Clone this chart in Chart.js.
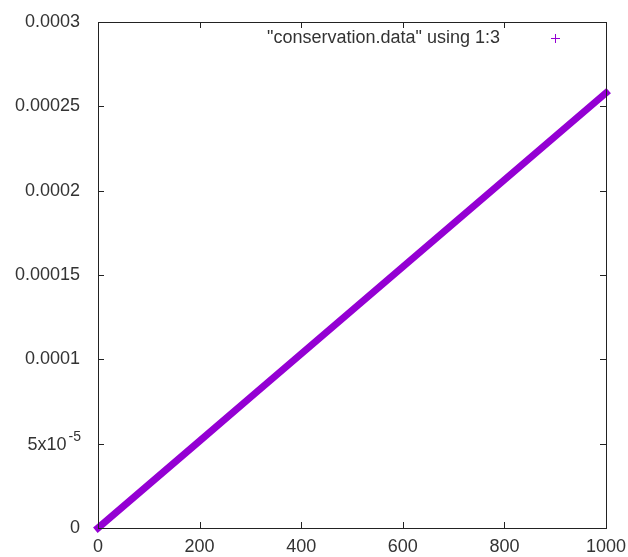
<!DOCTYPE html>
<html>
<head>
<meta charset="utf-8">
<script src="https://cdn.jsdelivr.net/npm/chart.js@4/dist/chart.umd.min.js"></script>
<style>
  html, body { margin: 0; padding: 0; background: #fff; }
  #wrap { width: 628px; height: 557px; }
</style>
</head>
<body>
<div id="wrap"><canvas id="myChart" width="628" height="557"></canvas></div>
<script>
// data read from conservation.data, column 1 vs column 3
const xValues = [0, 100, 200, 300, 400, 500, 600, 700, 800, 900, 1000];
const yValues = [0, 2.58e-5, 5.16e-5, 7.74e-5, 1.032e-4, 1.29e-4, 1.548e-4, 1.806e-4, 2.064e-4, 2.322e-4, 2.58e-4];
const seriesLabel = '"conservation.data" using 1:3';
const xTicks = [0, 200, 400, 600, 800, 1000];
const yTickLabels = ['0', '5x10^-5', '0.0001', '0.00015', '0.0002', '0.00025', '0.0003'];

const FONT = '"Liberation Sans", Arial, sans-serif';
const lineColor = '#9400D3';

// gnuplot style frame, inward ticks, key and the 5x10^-5 label
const gnuFrame = {
    id: 'gnuFrame',
    afterDraw(chart) {
        const { ctx, chartArea: a, scales } = chart;
        const x = scales.x, y = scales.y;
        const t = 6;
        ctx.save();
        ctx.strokeStyle = '#222';
        ctx.lineWidth = 1;
        ctx.strokeRect(a.left + 0.5, a.top + 0.5, a.right - a.left, a.bottom - a.top);
        ctx.beginPath();
        xTicks.forEach(v => {
            const px = Math.round(x.getPixelForValue(v)) + 0.5;
            ctx.moveTo(px, a.bottom); ctx.lineTo(px, a.bottom - t);
            ctx.moveTo(px, a.top); ctx.lineTo(px, a.top + t);
        });
        y.ticks.forEach(tk => {
            const py = Math.round(y.getPixelForValue(tk.value)) + 0.5;
            ctx.moveTo(a.left, py); ctx.lineTo(a.left + t, py);
            ctx.moveTo(a.right, py); ctx.lineTo(a.right - t, py);
        });
        ctx.stroke();

        // superscript label
        y.ticks.forEach((tk, i) => {
            const lbl = yTickLabels[i];
            if (lbl.indexOf('^') < 0) return;
            const [base, exp] = lbl.split('^');
            const py = y.getPixelForValue(tk.value);
            const right = a.left - 17;
            ctx.fillStyle = '#333';
            ctx.textAlign = 'right';
            ctx.textBaseline = 'alphabetic';
            ctx.font = '14px ' + FONT;
            ctx.fillText(exp, right, py - 3);
            const w = ctx.measureText(exp).width;
            ctx.font = '18px ' + FONT;
            ctx.fillText(base, right - w - 2, py + 6);
        });

        // key
        ctx.font = '18px ' + FONT;
        ctx.fillStyle = '#333';
        ctx.textAlign = 'right';
        ctx.textBaseline = 'middle';
        ctx.fillText(seriesLabel, 500, 38);
        ctx.strokeStyle = lineColor;
        ctx.beginPath();
        ctx.moveTo(551, 38.5); ctx.lineTo(560, 38.5);
        ctx.moveTo(555.5, 34); ctx.lineTo(555.5, 43);
        ctx.stroke();
        ctx.restore();
    }
};

const ctx = document.getElementById('myChart').getContext('2d');
const myChart = new Chart(ctx, {
    type: 'line',
    data: {
        datasets: [{
            label: seriesLabel,
            data: xValues.map((v, i) => ({ x: v, y: yValues[i] })),
            borderColor: lineColor,
            borderWidth: 7,
            borderCapStyle: 'square',
            pointRadius: 0,
            fill: false,
            clip: false
        }]
    },
    options: {
        responsive: false,
        animation: false,
        layout: {
            padding: { top: 22, right: 22, left: 0, bottom: 0 }
        },
        plugins: {
            legend: { display: false },
            tooltip: { enabled: false }
        },
        scales: {
            x: {
                type: 'linear',
                min: 0,
                max: 1000,
                afterBuildTicks: (scale) => { scale.ticks = xTicks.map(v => ({ value: v })); },
                afterFit: (scale) => {
                    scale.height = 29;
                    scale.paddingLeft = 0; scale.paddingRight = 0;
                },
                grid: { display: false, drawTicks: false },
                border: { display: false },
                ticks: {
                    padding: 8,
                    maxRotation: 0,
                    color: '#333',
                    font: { family: FONT, size: 18 },
                    callback: (value) => String(value)
                }
            },
            y: {
                type: 'linear',
                min: 0,
                max: 0.0003,
                afterFit: (scale) => {
                    scale.width = 98;
                    scale.paddingTop = 0; scale.paddingBottom = 0;
                },
                grid: { display: false, drawTicks: false },
                border: { display: false },
                ticks: {
                    stepSize: 0.00005,
                    padding: 18,
                    color: '#333',
                    font: { family: FONT, size: 18 },
                    callback: (value, index) => yTickLabels[index].indexOf('^') < 0 ? yTickLabels[index] : ''
                }
            }
        }
    },
    plugins: [gnuFrame]
});
</script>
</body>
</html>
